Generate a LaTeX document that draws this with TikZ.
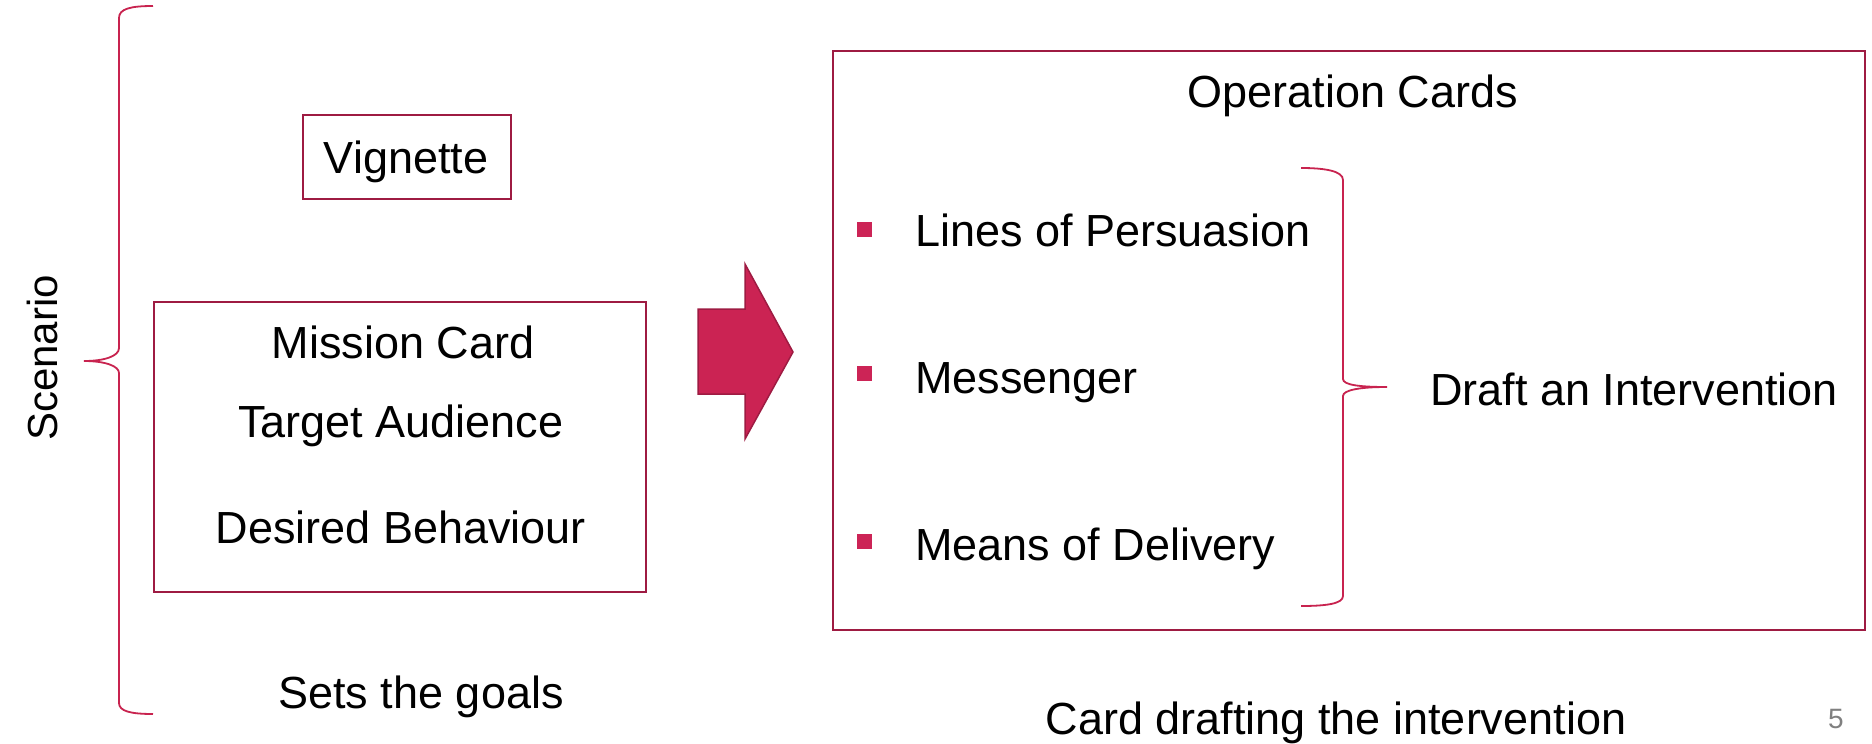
\documentclass[tikz,border=0pt]{standalone}
\usepackage{fontspec}
\setmainfont{Liberation Sans}
\begin{document}
\begin{tikzpicture}[x=1pt,y=-1pt,
  boxred/.style={draw=boxc,line width=2.4pt},
  bracered/.style={draw=bracec,line width=1.8pt},
  lbl/.style={inner sep=0pt,font=\fontsize{45}{54}\selectfont,text height=32.2pt,text depth=0pt},
  bul/.style={fill=bulc,draw=none,minimum size=15pt,inner sep=0pt}]
\definecolor{boxc}{HTML}{9E1B42}
\definecolor{bracec}{HTML}{C8234F}
\definecolor{arrc}{HTML}{CB2353}
\definecolor{bulc}{HTML}{CC2456}
\useasboundingbox (0,0) rectangle (1872,744);
\fill[white] (0,0) rectangle (1872,744);
% left brace
\draw[bracered] (153,6) .. controls (130,6) and (119,9) .. (119,18) -- (119,348)
  .. controls (119,356) and (105,361) .. (84,361)
  .. controls (105,361) and (119,366) .. (119,373) -- (119,703)
  .. controls (119,711) and (130,714) .. (153,714);
\node[lbl,rotate=90,font=\fontsize{42}{50}\selectfont,text height=30pt] (scen) at (42,358) {Scenario};
% vignette
\draw[boxred] (303,115) rectangle (511,199);
\node[lbl] (vig) at (406,157) {Vignette};
% mission card
\draw[boxred] (154,302) rectangle (646,592);
\node[lbl] (mc) at (403,342) {Mission Card};
\node[lbl] (ta) at (401,421) {Target Audience};
\node[lbl] (db) at (401,527) {Desired Behaviour};
\node[lbl] (goals) at (421,692) {Sets the goals};
% arrow
\draw[fill=arrc,draw=boxc,line width=1.5pt,line join=miter]
  (698,309) -- (745,309) -- (745,264) -- (793,352) -- (745,439) -- (745,394) -- (698,394) -- cycle;
% operation cards
\draw[boxred] (833,51) rectangle (1865,630);
\node[lbl] (oc) at (1353,91) {Operation Cards};
\node[bul] (b1) at (864,229) {};
\node[bul] (b2) at (864,373) {};
\node[bul] (b3) at (864,541) {};
\node[lbl,anchor=west] (l1) at (915,230) {Lines of Persuasion};
\node[lbl,anchor=west] (l2) at (915,377) {Messenger};
\node[lbl,anchor=west] (l3) at (915,544) {Means of Delivery};
% right brace
\draw[bracered] (1301,168) .. controls (1325,168) and (1343,171) .. (1343,180) -- (1343,379)
  .. controls (1343,385) and (1360,387) .. (1387,387)
  .. controls (1360,387) and (1343,390) .. (1343,396) -- (1343,596)
  .. controls (1343,604) and (1325,606) .. (1301,606);
\node[lbl,anchor=west] (draft) at (1430,389) {Draft an Intervention};
\node[lbl] (cdi) at (1336,718) {Card drafting the intervention};
\node[inner sep=0pt,font=\fontsize{28}{34}\selectfont,text=gray,text height=20pt,text depth=0pt] (pg) at (1836,718) {5};
\end{tikzpicture}
\end{document}
